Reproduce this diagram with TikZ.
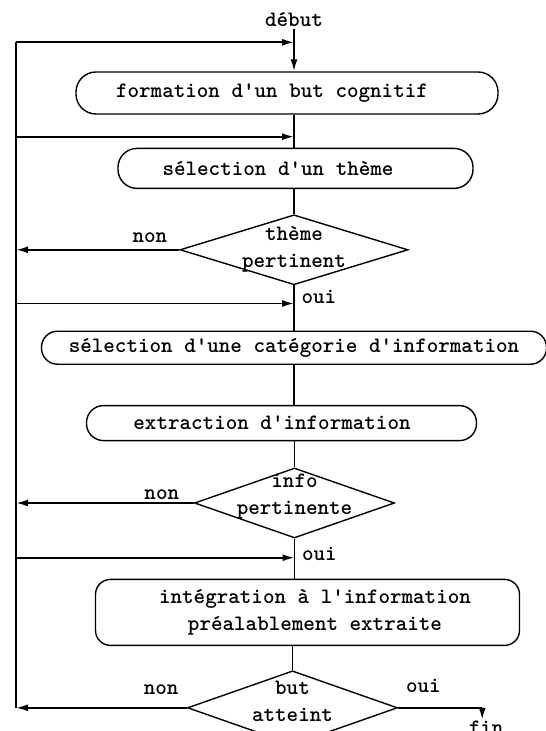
\documentclass[tikz,border=0pt]{standalone}
\usepackage{fontspec}
\usepackage{tikz}
\usetikzlibrary{positioning, calc, shapes.geometric, arrows.meta}
\tikzset{
	every text node part/.style= {
		align=center
	},
	every node/.style= {
		font=\ttfamily\bfseries\fontsize{11}{13.5}\selectfont
	},
	etape/.style= {
		rectangle,
		draw,
		line width=0.7pt,
		rounded corners=8pt,
		inner sep=0pt
	},
	choix/.style= {
		diamond,
		draw,
		line width=0.7pt,
		inner sep=0pt
	},
	lien/.style= {
		line width=0.9pt
	},
	retour/.style= {
		line width=0.9pt,
		-{Latex[length=6pt, width=3.5pt]}
	}
}

\begin{document}
\begin{tikzpicture}
	\useasboundingbox (0,0) rectangle (272.5pt,-365.5pt);
	
	\node (form)[etape, minimum width=211pt, minimum height=21pt, rounded corners=10pt, label={[xshift=-7.5pt]center:formation d'un but cognitif}] at (143.5pt,-46.5pt) {};
	\node (theme)[etape, below=16.5pt of form, xshift=4.25pt, minimum width=177.5pt, minimum height=20pt, rounded corners=9.5pt, label={[xshift=-8.75pt]center:sélection d'un thème}]{};
	\node (pertinent)[choix, below=12.5pt of theme, xshift=-0.75pt, minimum width=114pt, minimum height=35pt, label={center:thème\\pertinent}]{};
	\node (categorie)[etape, below=22.5pt of pertinent, minimum width=252.5pt, minimum height=16.5pt, label={center:sélection d'une catégorie d'information}]{};
	\node (extraction)[etape, below=20pt of categorie, xshift=-6.25pt, minimum width=195pt, minimum height=17.5pt, rounded corners=8.5pt, label={[xshift=-4.75pt]center:extraction d'information}]{};
	\node (info)[choix, below=13pt of extraction, xshift=6.5pt, minimum width=100pt, minimum height=35pt, label={[yshift=3pt]center:info\\pertinente}]{};
	\node (integration)[etape, below=20pt of info, xshift=6.5pt, minimum width=212pt, minimum height=33pt, rounded corners=7.5pt, label={[xshift=3.75pt]center:intégration à l'information\\préalablement extraite}]{};
	\node (atteint)[choix, below=12pt of integration, xshift=-7.5pt, minimum width=105pt, minimum height=37pt, label={[yshift=3pt]center:but\\atteint}]{};
	
	% retours vers la boucle de gauche
	\coordinate (back) at (8pt,0);
	\coordinate (in1) at ($(pertinent |- form.north)+(0,14.5pt)$);
	\coordinate (in2) at ($(pertinent |- form.south)+(0,-11pt)$);
	\coordinate (in3) at ($(pertinent.south)+(0,-9pt)$);
	\coordinate (in4) at ($(info.south)+(0,-9.5pt)$);
	\coordinate (ouiend) at ($(atteint.east)+(42pt,0)$);
	
	\node (debut)[above=6.5pt of in1, inner sep=1pt]{début};
	\draw[retour](debut) to (form.north -| pertinent);
	
	\draw[lien](form.south -| pertinent) to (theme.north -| pertinent);
	\draw[lien](theme.south -| pertinent) to (pertinent.north);
	\draw[lien](pertinent.south) to node[right, pos=0.25]{oui} (categorie.north -| pertinent);
	\draw[lien](categorie.south -| pertinent) to (extraction.north -| pertinent);
	\draw[lien](extraction.south -| info) to (info.north);
	\draw[lien](info.south) to node[right, pos=0.37]{oui} (integration.north -| info);
	\draw[lien](integration.south -| atteint) to (atteint.north);
	
	\draw[lien](back |- in1) to (back |- atteint.west);
	\draw[retour](back |- in1) to (in1);
	\draw[retour](back |- in2) to (in2);
	\draw[retour](back |- in3) to (in3);
	\draw[retour](back |- in4) to (in4);
	
	\draw[retour](pertinent.west) to node[above, pos=0.18]{non} (pertinent.west -| back);
	\draw[retour](info.west) to node[above, pos=0.18, yshift=-2.2pt]{non} (info.west -| back);
	\draw[retour](atteint.west) to node[above, pos=0.15, yshift=2.8pt]{non} (atteint.west -| back);
	
	\draw[lien](atteint.east) to node[above, pos=0.3, yshift=3.8pt]{oui} (ouiend);
	\node (fin)[below=6pt of ouiend, xshift=2pt, inner sep=0.5pt]{fin};
	\draw[retour](ouiend) to (ouiend |- fin.north);
	
\end{tikzpicture}
\end{document}
